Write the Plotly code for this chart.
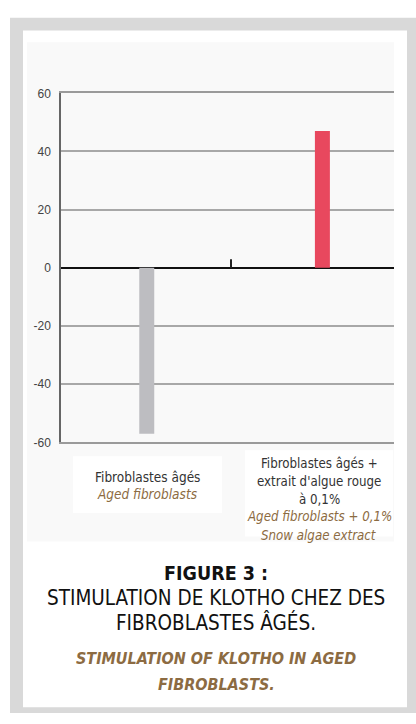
import plotly.graph_objects as go

categories = ["Fibroblastes âgés", "témoin", "Fibroblastes âgés + extrait"]
x_pos = [1.03, 2.04, 3.14]
values = [-57, 3, 47]
bar_colors = ["#bdbdc1", "#222222", "#e8485e"]
bar_widths = [0.18, 0.02, 0.18]
tick_vals = [-60, -40, -20, 0, 20, 40, 60]
tick_text = ["-60", "-40", "-20", "0", "20", "40", "60"]
label1_lines = ["Fibroblastes âgés", "<i>Aged fibroblasts</i>"]
label2_lines = ["Fibroblastes âgés +", "extrait d'algue rouge", "à 0,1%",
                "<i>Aged fibroblasts + 0,1%</i>", "<i>Snow algae extract</i>"]
title_lines = ["<b>FIGURE 3 :</b>", "STIMULATION DE KLOTHO CHEZ DES", "FIBROBLASTES ÂGÉS.",
               "<b><i>STIMULATION OF KLOTHO IN AGED</i></b>", "<b><i>FIBROBLASTS.</i></b>"]

W, H = 416, 724
BROWN = "#8c6b42"
NARROW = "DejaVu Sans Condensed, Roboto, sans-serif"

def px(x):
    return x / W

def py(y):
    return 1 - y / H

fig = go.Figure()
fig.add_trace(go.Bar(x=x_pos, y=values, width=bar_widths,
                     marker=dict(color=bar_colors, line=dict(width=0)),
                     hoverinfo="skip"))

shapes = [
    dict(type="rect", xref="paper", yref="paper", x0=0, x1=1, y0=0, y1=1,
         fillcolor="#ffffff", line=dict(width=0), layer="below"),
    dict(type="rect", xref="paper", yref="paper", x0=px(10), x1=1, y0=py(720), y1=py(11),
         fillcolor="#d9d9d9", line=dict(width=0), layer="below"),
    dict(type="rect", xref="paper", yref="paper", x0=px(23), x1=px(407), y0=py(714), y1=py(24),
         fillcolor="#ffffff", line=dict(width=0), layer="below"),
    dict(type="rect", xref="paper", yref="paper", x0=px(27), x1=px(394), y0=py(545), y1=py(36),
         fillcolor="#f9f9f9", line=dict(width=0), layer="below"),
    dict(type="rect", xref="paper", yref="paper", x0=px(73), x1=px(222), y0=py(516), y1=py(458),
         fillcolor="#ffffff", line=dict(width=0), layer="below"),
    dict(type="rect", xref="paper", yref="paper", x0=px(245), x1=px(393), y0=py(540), y1=py(452),
         fillcolor="#ffffff", line=dict(width=0), layer="below"),
]

annotations = []
for txt, yy in zip(label1_lines, [479, 497]):
    col = BROWN if "<i>" in txt else "#333333"
    annotations.append(dict(text=txt, x=px(147), y=py(yy), xref="paper", yref="paper",
                            xanchor="center", yanchor="middle", showarrow=False,
                            font=dict(family=NARROW, size=13.5, color=col)))
for txt, yy in zip(label2_lines, [465, 484, 502, 520, 539]):
    col = BROWN if "<i>" in txt else "#333333"
    annotations.append(dict(text=txt, x=px(319), y=py(yy), xref="paper", yref="paper",
                            xanchor="center", yanchor="middle", showarrow=False,
                            font=dict(family=NARROW, size=13.2, color=col)))
title_sizes = [19.5, 20.5, 20.5, 16, 16]
for txt, yy, sz in zip(title_lines, [578, 603, 628, 664, 691], title_sizes):
    col = BROWN if "<i>" in txt else "#111111"
    annotations.append(dict(text=txt, x=px(216), y=py(yy), xref="paper", yref="paper",
                            xanchor="center", yanchor="middle", showarrow=False,
                            font=dict(family=NARROW, size=sz, color=col)))

fig.update_layout(
    width=W, height=H, margin=dict(l=0, r=0, t=0, b=0),
    paper_bgcolor="#ffffff", plot_bgcolor="rgba(0,0,0,0)",
    showlegend=False, shapes=shapes, annotations=annotations,
    xaxis=dict(domain=[px(61), px(394)], range=[0, 4], showticklabels=False,
               showgrid=False, zeroline=False, showline=True, mirror=True,
               linecolor="#9a9a9a", linewidth=1.5, fixedrange=True),
    yaxis=dict(domain=[py(444), py(88)], range=[-60, 60], tickvals=tick_vals,
               ticktext=tick_text, showgrid=True, gridcolor="#a8a8a8", gridwidth=1.5,
               zeroline=True, zerolinecolor="#111111", zerolinewidth=2,
               showline=True, linecolor="#666666", linewidth=1.5, ticks="",
               ticklabelstandoff=6,
               tickfont=dict(family="Liberation Sans, Arial", size=12, color="#444444"),
               fixedrange=True),
)

fig.write_html("out.html", config={"displayModeBar": False},
               post_script="document.body.style.margin='0px';")
